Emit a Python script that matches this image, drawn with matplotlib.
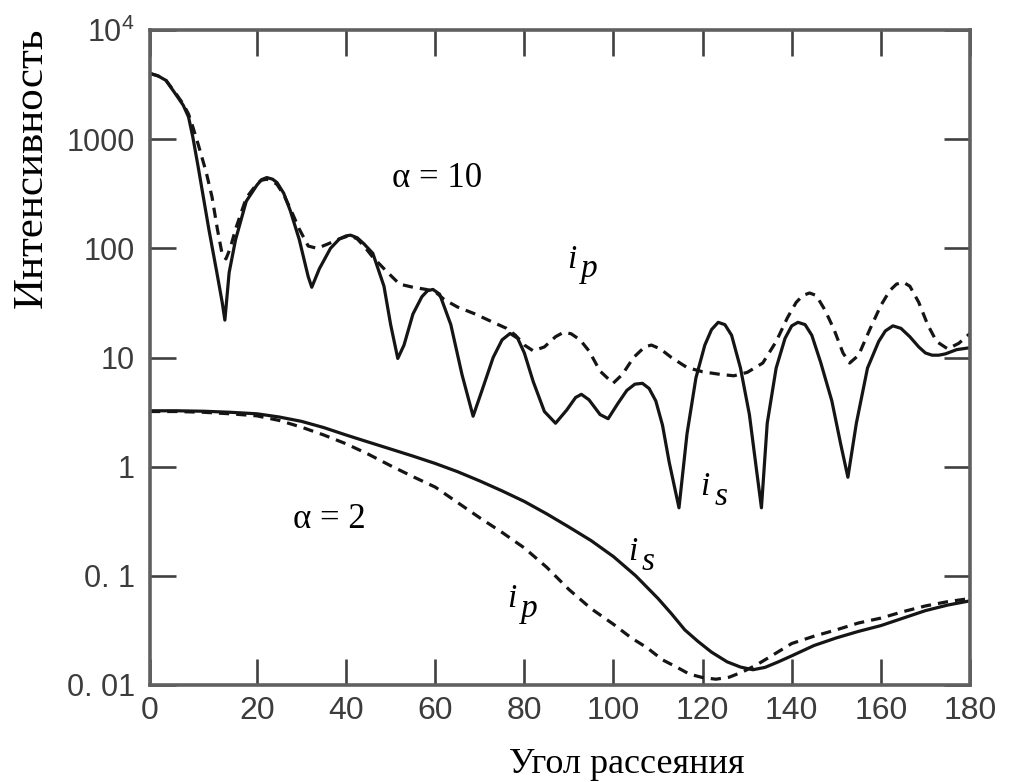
import numpy as np
import matplotlib.pyplot as plt
import matplotlib.ticker as mticker

# --- data (angle in degrees, intensity) ---
# alpha = 10, i_s (solid)
a10_s_ang = [0, 1.5, 3, 5, 6.2, 7.2, 8, 9, 11, 12.5, 13.5, 14.0, 14.8, 16, 18, 20, 21, 22.2, 23.5, 24.5, 26, 27.5,
             29.5, 31.5, 32.3, 34, 36.5, 38.5, 40, 41, 42.5, 44, 46, 48.5, 50, 51.6, 53, 55, 57, 58.3,
             59.5, 61, 63.5, 66, 68.5, 70.5, 73, 75, 76.8, 78.5, 80, 82, 84.5, 87, 89.5, 91.5,
             92.8, 94.5, 97, 98.8, 101, 103, 104.8, 106.5, 108, 109.5, 111, 112.5, 114.7, 116.5,
             118.5, 120.5, 122, 123.5, 125, 126.5, 128.5, 130.5, 132, 133.2, 134.5, 136.5, 138.5,
             140, 141.4, 143, 144.5, 146.5, 149, 151, 152.6, 154.5, 157, 159.5, 161, 162.7, 164.5,
             166.5, 168.5, 170, 171.5, 173, 174.5, 177, 180]
a10_s_val = [4000, 3800, 3450, 2500, 2050, 1600, 1050, 560, 150, 60, 32, 22, 60, 120, 270, 380, 425, 445, 430, 400,
             320, 220, 120, 55, 44, 65, 100, 122, 130, 132, 125, 110, 90, 45, 20, 9.8, 13, 25, 36, 41,
             42, 38, 20, 7, 2.9, 5, 10, 14.5, 16.6, 15, 11, 6, 3.2, 2.5, 3.3, 4.3,
             4.6, 4.1, 3.0, 2.75, 3.8, 5.0, 5.7, 5.8, 5.2, 4.0, 2.4, 1.1, 0.42, 2,
             6.5, 13, 18, 21, 20, 16, 8, 3, 1, 0.42, 2.5, 8, 15,
             19.5, 21, 20, 16, 9, 4, 1.6, 0.8, 2.5, 8, 14, 17.5, 19.5, 18.5,
             15.5, 12.5, 11, 10.5, 10.5, 10.8, 11.8, 12.3]

# alpha = 10, i_p (dashed)
a10_p_ang = [0, 1.5, 3, 5, 6.2, 7.2, 8, 9, 10.5, 11.6, 12.6, 13.5, 14.2, 15, 16, 18, 20, 21, 22.2, 23.5, 24.5,
             26, 27.5, 29.5, 31.5, 33.5, 36, 38.5, 40, 41, 42.5, 44, 46, 49, 52, 55, 58, 60, 62,
             65, 69, 73, 76, 78, 80, 82, 84.5, 87, 88.8, 90.5, 92.5, 94.5, 97, 99.9, 102, 104.5,
             107, 108.5, 110.5, 113, 116.5, 120, 124, 127, 130, 133.5, 136.5, 139, 141, 142.5,
             144, 145.5, 147.5, 149.5, 151.5, 153, 155, 157.5, 160, 162, 163.5, 165, 166.5, 168.5,
             170.5, 172.5, 175, 177.5, 180]
a10_p_val = [4000, 3800, 3450, 2550, 2100, 1700, 1300, 900, 500, 295, 150, 88, 80, 100, 150, 290, 390, 420, 430, 410, 385,
             310, 230, 150, 105, 100, 110, 122, 128, 130, 122, 105, 83, 62, 47, 44, 42, 40, 34,
             29, 25, 21, 18.5, 16, 13, 11.5, 12.5, 15.5, 17, 16.5, 14.5, 11.5, 7.5, 5.8, 7, 10,
             12.5, 13, 12, 10, 8.1, 7.4, 7.0, 6.8, 7.3, 8.9, 14, 23, 32, 37,
             39, 37, 27, 18, 11, 8.9, 10.5, 18, 30, 41, 47, 49, 45, 32,
             20, 14, 12, 13.5, 16.6]

# alpha = 2, i_s (solid)
a2_s_ang = [0, 5, 10, 15, 20, 25, 30, 35, 40, 45, 50, 55, 60, 65, 70, 75, 80, 85, 90, 95, 100, 105,
            110, 113, 116, 119, 122, 125.5, 128.5, 131.3, 134, 137, 140, 145, 150, 155, 160, 165,
            170, 175, 180]
a2_s_val = [3.25, 3.25, 3.22, 3.15, 3.05, 2.85, 2.6, 2.28, 1.95, 1.68, 1.45, 1.25, 1.07, 0.9, 0.74,
            0.6, 0.48, 0.37, 0.28, 0.21, 0.15, 0.1, 0.062, 0.045, 0.032, 0.025, 0.02, 0.0163, 0.0146,
            0.0138, 0.0145, 0.0163, 0.0185, 0.023, 0.027, 0.031, 0.035, 0.041, 0.048, 0.054, 0.059]

# alpha = 2, i_p (dashed)
a2_p_ang = [0, 5, 10, 15, 20, 25, 30, 35, 40, 45, 50, 55, 60, 65, 70, 75, 80, 85, 90, 95, 100, 104,
            107.5, 111, 114.3, 117, 120, 123, 126, 129, 132, 135, 140, 145, 150, 155, 160, 165,
            170, 175, 180]
a2_p_val = [3.2, 3.2, 3.15, 3.05, 2.92, 2.65, 2.3, 1.95, 1.62, 1.3, 1.02, 0.81, 0.65, 0.47, 0.34,
            0.25, 0.18, 0.12, 0.075, 0.05, 0.036, 0.027, 0.022, 0.017, 0.0145, 0.0126, 0.0117,
            0.0113, 0.0118, 0.0132, 0.0152, 0.018, 0.024, 0.028, 0.032, 0.037, 0.041, 0.047,
            0.053, 0.058, 0.062]

x_ticks = [0, 20, 40, 60, 80, 100, 120, 140, 160, 180]
y_ticks = [0.01, 0.1, 1, 10, 100, 1000, 1e4]
y_ticklabels = ['0. 01', '0. 1', '1', '10', '100', '1000', r'$\mathregular{10^4}$']

plt.rcParams['mathtext.fontset'] = 'custom'
plt.rcParams['mathtext.rm'] = 'Liberation Sans'
tickfont = ['Liberation Sans Narrow', 'Liberation Sans', 'DejaVu Sans']
serif = ['Liberation Serif', 'DejaVu Serif']
gray = '#3c3c3c'
ink = '#151515'

fig = plt.figure(figsize=(10.1, 7.82), dpi=100)
ax = fig.add_axes([150 / 1010, 1 - 685 / 782, 820 / 1010, 655 / 782])


# the first 20 degrees are drawn wider in the original figure
def fwd(x):
    x = np.asarray(x, dtype=float)
    return np.where(x < 20, x * 1.2, x + 4)


def inv(y):
    y = np.asarray(y, dtype=float)
    return np.where(y < 24, y / 1.2, y - 4)


ax.set_xscale('function', functions=(fwd, inv))
ax.set_yscale('log')

lw = 2.3
ax.plot(a10_s_ang, a10_s_val, color=ink, lw=lw, solid_joinstyle='round')
ax.plot(a10_p_ang, a10_p_val, color=ink, lw=lw, dashes=(3.2, 2.2))
ax.plot(a2_s_ang, a2_s_val, color=ink, lw=lw, solid_joinstyle='round')
ax.plot(a2_p_ang, a2_p_val, color=ink, lw=lw, dashes=(3.2, 2.2))

ax.set_xlim(0, 180)
ax.set_ylim(0.01, 1e4)
ax.set_xticks(x_ticks)
ax.set_xticklabels([str(v) for v in x_ticks])
ax.set_yticks(y_ticks)
ax.set_yticklabels(y_ticklabels)
ax.yaxis.set_minor_locator(mticker.NullLocator())
ax.xaxis.set_minor_locator(mticker.NullLocator())

for s in ax.spines.values():
    s.set_linewidth(2.6)
    s.set_color('#606060')
ax.tick_params(which='major', direction='in', length=19, width=1.9, color='#404040',
               top=True, right=True, labelcolor=gray)
ax.tick_params(axis='y', pad=11, labelsize=22)
ax.tick_params(axis='x', pad=8, labelsize=23)
for lab in ax.get_xticklabels() + ax.get_yticklabels():
    lab.set_family(tickfont)

# annotations
ax.text(0.295, 0.760, 'α = 10', transform=ax.transAxes, fontsize=25, family=serif,
        va='baseline', color='black')
ax.text(0.174, 0.240, 'α = 2', transform=ax.transAxes, fontsize=25, family=serif,
        va='baseline', color='black')


def pol_label(x, y, sub):
    ax.annotate('i', xy=(x, y), xycoords='axes fraction', fontsize=24, family=serif,
                style='italic', va='baseline', color='black')
    ax.annotate(sub, xy=(x, y), xycoords='axes fraction', xytext=(10, -7),
                textcoords='offset points', fontsize=24, family=serif, style='italic',
                va='baseline', color='black')


pol_label(0.5085, 0.637, 'p')
pol_label(0.671, 0.290, 's')
pol_label(0.435, 0.119, 'p')
pol_label(0.583, 0.191, 's')

fig.text(627 / 1010, 1 - 773 / 782, 'Угол рассеяния', fontsize=26, family=serif,
         ha='center', va='baseline', color='black')
fig.text(32 / 1010, 1 - 168 / 782, 'Интенсивность', fontsize=31, family=serif,
         rotation=90, ha='center', va='center', color='black')

fig.savefig('out.png', dpi=100)
